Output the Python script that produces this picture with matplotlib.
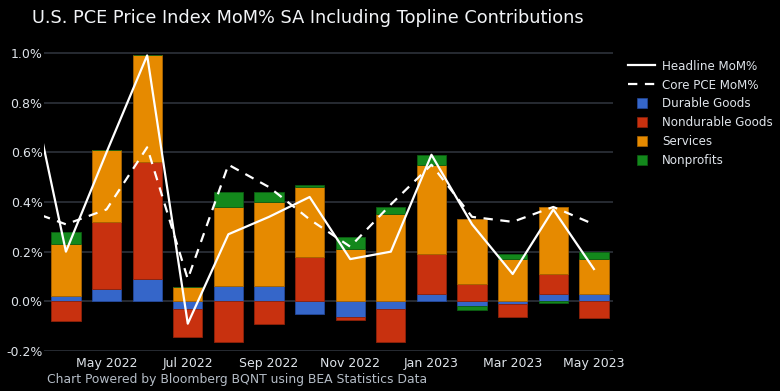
import matplotlib
matplotlib.use("Agg")
matplotlib.rcParams["font.family"] = "DejaVu Sans"
import matplotlib.pyplot as plt
import numpy as np
from matplotlib.lines import Line2D

# ---------------------------------------------------------------------------
# Data (percent, month over month)
# ---------------------------------------------------------------------------
line_months = ["Mar 2022", "Apr 2022", "May 2022", "Jun 2022", "Jul 2022",
               "Aug 2022", "Sep 2022", "Oct 2022", "Nov 2022", "Dec 2022",
               "Jan 2023", "Feb 2023", "Mar 2023", "Apr 2023", "May 2023"]
headline = [0.97, 0.20, 0.60, 0.99, -0.09, 0.27, 0.34, 0.42, 0.17, 0.20,
            0.59, 0.31, 0.11, 0.37, 0.13]
core = [0.37, 0.31, 0.37, 0.62, 0.09, 0.55, 0.46, 0.33, 0.22, 0.39,
        0.55, 0.34, 0.32, 0.38, 0.31]

bar_months = line_months[1:]
durable = [0.02, 0.05, 0.09, -0.03, 0.06, 0.06, -0.05, -0.065, -0.03,
           0.03, -0.017, -0.01, 0.03, 0.03]
nondurable = [-0.08, 0.27, 0.47, -0.115, -0.165, -0.09, 0.18, -0.012,
              -0.135, 0.16, 0.07, -0.055, 0.08, -0.067]
services = [0.21, 0.29, 0.43, 0.057, 0.32, 0.34, 0.28, 0.21, 0.35, 0.36,
            0.26, 0.17, 0.27, 0.14]
nonprofits = [0.05, 0.0, 0.0, 0.0, 0.06, 0.04, 0.01, 0.05, 0.03, 0.04,
              -0.018, 0.02, -0.008, 0.03]

tick_labels = ["May 2022", "Jul 2022", "Sep 2022", "Nov 2022",
               "Jan 2023", "Mar 2023", "May 2023"]

# ---------------------------------------------------------------------------
# Style
# ---------------------------------------------------------------------------
BG_COLOR = "#000000"
GRID_COLOR = "#2a2e36"
TEXT_COLOR = "#dfe4ea"
FOOT_COLOR = "#b4bcc6"

components = [
    ("Durable Goods", durable, "#3566c9", "#23489a"),
    ("Nondurable Goods", nondurable, "#c8310f", "#8f220a"),
    ("Services", services, "#e68a00", "#a86400"),
    ("Nonprofits", nonprofits, "#13881c", "#0c5e12"),
]

fig = plt.figure(figsize=(7.8, 3.91), dpi=100)
fig.patch.set_facecolor(BG_COLOR)
ax = fig.add_axes([0.0564, 0.1023, 0.7295, 0.775])
ax.set_facecolor(BG_COLOR)

x_line = np.arange(len(line_months))
x_bar = x_line[1:]

# stack positives upward and negatives downward, same component order
pos_base = np.zeros(len(bar_months))
neg_base = np.zeros(len(bar_months))
for name, vals, color, edge in components:
    vals = np.array(vals)
    bottoms = np.where(vals >= 0, pos_base, neg_base)
    ax.bar(x_bar, vals, bottom=bottoms, width=0.72, color=color,
           edgecolor=edge, linewidth=0.6, zorder=2)
    pos_base += np.where(vals >= 0, vals, 0)
    neg_base += np.where(vals < 0, vals, 0)

ax.plot(x_line, headline, color="white", linewidth=1.6, zorder=4)
ax.plot(x_line, core, color="white", linewidth=1.6, zorder=3,
        linestyle=(0, (4.2, 3.4)))

yticks = [-0.2, 0.0, 0.2, 0.4, 0.6, 0.8, 1.0]
ax.set_xlim(0.46, 14.47)
ax.set_ylim(-0.2, 1.02)
ax.set_yticks(yticks)
ax.set_yticklabels([f"{v:.1f}%" for v in yticks])
ax.set_xticks(x_line[2::2])
ax.set_xticklabels(tick_labels)
ax.tick_params(axis="both", length=0, colors=TEXT_COLOR, labelsize=9)
ax.tick_params(axis="y", pad=1)
ax.tick_params(axis="x", pad=4)
ax.yaxis.grid(True, color=GRID_COLOR, linewidth=1.3, zorder=0)
ax.set_axisbelow(True)
for spine in ax.spines.values():
    spine.set_visible(False)

fig.text(0.041, 0.955, "U.S. PCE Price Index MoM% SA Including Topline Contributions",
         color="#f2f4f7", fontsize=12.8, ha="left", va="center")
fig.text(0.060, 0.030, "Chart Powered by Bloomberg BQNT using BEA Statistics Data",
         color=FOOT_COLOR, fontsize=8.9, ha="left", va="center")

handles = [
    Line2D([], [], color="white", linewidth=1.6),
    Line2D([], [], color="white", linewidth=1.6, linestyle=(0, (4.2, 3.4))),
]
labels = ["Headline MoM%", "Core PCE MoM%"]
for name, _, color, edge in components:
    handles.append(Line2D([], [], linestyle="none", marker="s", markersize=7.5,
                          markerfacecolor=color, markeredgecolor=edge,
                          markeredgewidth=0.5))
    labels.append(name)

leg = fig.legend(handles, labels, loc="upper left",
                 bbox_to_anchor=(0.798, 0.863), frameon=False,
                 fontsize=8.6, handlelength=2.2, handletextpad=0.6,
                 labelspacing=0.5, borderpad=0.0)
for t in leg.get_texts():
    t.set_color(TEXT_COLOR)

fig.savefig("out.png", dpi=100, facecolor=BG_COLOR)
